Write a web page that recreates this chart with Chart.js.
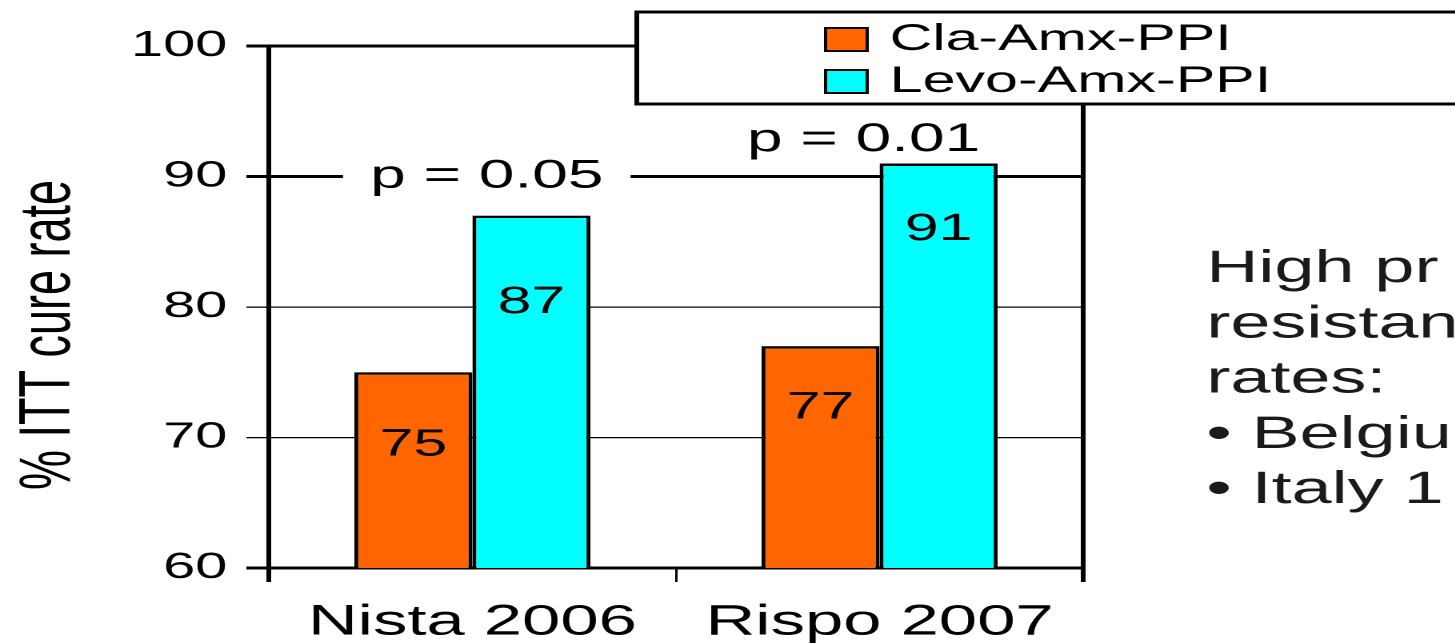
<!DOCTYPE html>
<html>
<head>
<meta charset="utf-8">
<title>ITT cure rate</title>
<script src="https://cdn.jsdelivr.net/npm/chart.js@4/dist/chart.umd.min.js"></script>
<style>
  html, body { margin: 0; padding: 0; background: #fff; overflow: hidden; width: 1455px; height: 643px; }
  /* the slide is laid out in a 910px box and widened horizontally */
  #wrap { position: absolute; left: 0; top: 0; width: 910px; height: 643px; transform: scaleX(1.6); transform-origin: 0 0; }
</style>
</head>
<body>
<div id="wrap"><canvas id="c"></canvas></div>
<script>
const categories = ['Nista 2006', 'Rispo 2007'];
const seriesNames = ['Cla-Amx-PPI', 'Levo-Amx-PPI'];
const claValues = [75, 77];
const levoValues = [87, 91];
const pValueLabels = ['p = 0.05', 'p = 0.01'];
const yTicks = [60, 70, 80, 90, 100];
const yTitle = '% ITT cure rate';
const sideNoteLines = ['High pr', 'resistan', 'rates:', '\u2022 Belgiu', '\u2022 Italy 1'];

const FONT = '"Liberation Sans", Arial, sans-serif';
const ORANGE = '#FF6600';
const CYAN = '#00FFFF';

Chart.defaults.font.family = FONT;
Chart.defaults.color = '#000';

// p-value annotation placement (value axis level, horizontal nudge, line mask)
const pAt = [90, 92.8];
const pShift = [9, -10];
const pMasked = [true, false];
// distance of each value label below its bar top, per dataset / category
const valueLabelDrop = [[73, 62], [87, 66]];

const overlay = {
  id: 'overlay',
  afterDatasetsDraw(chart) {
    const { ctx, scales: { x, y } } = chart;
    ctx.save();
    // value labels inside the bars
    ctx.font = `38px ${FONT}`;
    ctx.textAlign = 'center';
    ctx.textBaseline = 'middle';
    ctx.fillStyle = '#000';
    chart.data.datasets.forEach((ds, di) => {
      chart.getDatasetMeta(di).data.forEach((bar, i) => {
        ctx.fillText(String(ds.data[i]), bar.x, bar.y + valueLabelDrop[di][i]);
      });
    });
    // significance labels
    ctx.font = `40px ${FONT}`;
    pValueLabels.forEach((t, i) => {
      const cx = x.getPixelForValue(i) + pShift[i];
      const cy = y.getPixelForValue(pAt[i]);
      const w = ctx.measureText(t).width;
      if (pMasked[i]) {
        ctx.fillStyle = '#fff';
        ctx.fillRect(cx - w / 2 - 17, cy - 8, w + 34, 16);
      }
      ctx.fillStyle = '#000';
      ctx.fillText(t, cx, cy);
    });
    ctx.restore();
  },
  afterDraw(chart) {
    const ctx = chart.ctx;
    ctx.save();
    // legend frame
    ctx.fillStyle = '#fff';
    ctx.fillRect(398, 12, 540, 92);
    ctx.lineWidth = 3;
    ctx.strokeStyle = '#000';
    ctx.strokeRect(398, 12, 540, 92);
    const rowTop = [28, 70];
    ctx.font = `37px ${FONT}`;
    ctx.textAlign = 'left';
    ctx.textBaseline = 'middle';
    chart.data.datasets.forEach((ds, i) => {
      ctx.fillStyle = ds.backgroundColor;
      ctx.fillRect(516, rowTop[i], 26, 23);
      ctx.lineWidth = 2;
      ctx.strokeRect(516, rowTop[i], 26, 23);
      ctx.fillStyle = '#000';
      ctx.fillText(ds.label, 556, rowTop[i] + 12);
    });
    // value axis title
    ctx.save();
    ctx.translate(31, 335);
    ctx.rotate(-Math.PI / 2);
    ctx.font = `45px ${FONT}`;
    ctx.textAlign = 'center';
    ctx.textBaseline = 'middle';
    ctx.fillStyle = '#000';
    ctx.fillText(yTitle, 0, 0);
    ctx.restore();
    // side note
    ctx.font = `45px ${FONT}`;
    ctx.textAlign = 'left';
    ctx.textBaseline = 'alphabetic';
    ctx.fillStyle = '#1a1a1a';
    sideNoteLines.forEach((line, i) => {
      ctx.fillText(line, 754, 282 + i * 55.3);
    });
    ctx.restore();
  }
};

new Chart(document.getElementById('c'), {
  type: 'bar',
  data: {
    labels: categories,
    datasets: [
      { label: seriesNames[0], data: claValues, backgroundColor: ORANGE, borderColor: '#000', borderWidth: 2.5 },
      { label: seriesNames[1], data: levoValues, backgroundColor: CYAN, borderColor: '#000', borderWidth: 2.5 }
    ]
  },
  options: {
    responsive: true,
    maintainAspectRatio: false,
    animation: false,
    devicePixelRatio: 2,
    layout: { padding: { top: 46, right: 233, left: 0, bottom: 0 } },
    datasets: { bar: { barPercentage: 1, categoryPercentage: 0.58 } },
    plugins: { legend: { display: false }, tooltip: { enabled: false } },
    scales: {
      x: {
        grid: {
          drawOnChartArea: false, drawTicks: true, tickLength: 14, color: '#000',
          lineWidth: c => (c.index === 1 ? 1.5 : 3)
        },
        border: { display: true, color: '#000', width: 3 },
        ticks: { font: { size: 43 }, padding: 15, color: '#000' },
        afterFit: a => { a.height = 75; }
      },
      y: {
        min: 60, max: 100,
        afterBuildTicks: a => { a.ticks = yTicks.map(v => ({ value: v })); },
        grid: {
          color: '#000', drawTicks: true, tickLength: 14,
          lineWidth: c => (c.tick && (c.tick.value === 70 || c.tick.value === 80) ? 1.3 : 3)
        },
        border: { display: true, color: '#000', width: 3 },
        ticks: { font: { size: 36 }, padding: 12, color: '#000' },
        afterFit: a => { a.width = 168; }
      },
      y2: {
        position: 'right', min: 60, max: 100,
        grid: { drawOnChartArea: false, drawTicks: false },
        ticks: { display: false },
        border: { display: true, color: '#000', width: 3 },
        afterFit: a => { a.width = 0; }
      }
    }
  },
  plugins: [overlay]
});
</script>
</body>
</html>
